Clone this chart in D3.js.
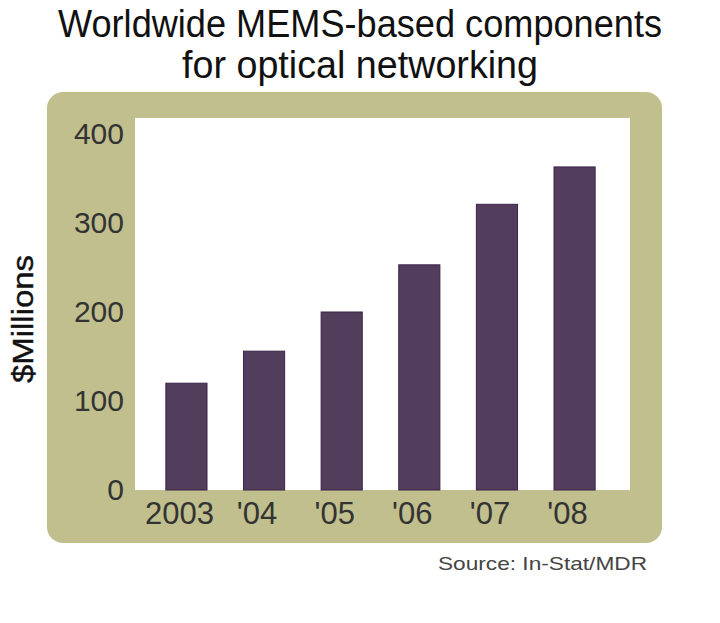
<!DOCTYPE html>
<html><head><meta charset="utf-8">
<script src="https://cdn.jsdelivr.net/npm/d3@7/dist/d3.min.js"></script>
<style>body{margin:0;background:#fff}svg{display:block}</style>
</head><body>
<script>
const categories = ["2003", "'04", "'05", "'06", "'07", "'08"];
const values = [120, 156, 200, 253, 321, 363];
const yTicks = [0, 100, 200, 300, 400];
const titleLines = ["Worldwide MEMS-based components", "for optical networking"];
const yLabel = "$Millions";
const source = "Source: In-Stat/MDR";

const W = 720, H = 623;
const svg = d3.select("body").append("svg").attr("width", W).attr("height", H);
const font = "'Liberation Sans', Arial, sans-serif";

// title
const tl = [{t: titleLines[0], y: 37, len: 604}, {t: titleLines[1], y: 78, len: 356}];
svg.selectAll("text.title").data(tl).join("text")
  .attr("x", 360).attr("y", d => d.y).attr("text-anchor", "middle")
  .attr("font-family", font).attr("font-size", 38).attr("fill", "#111")
  .attr("textLength", d => d.len).attr("lengthAdjust", "spacingAndGlyphs")
  .text(d => d.t);

// olive frame
svg.append("rect").attr("x", 47).attr("y", 92).attr("width", 615).attr("height", 451)
  .attr("rx", 16).attr("fill", "#c0bf8d");

// plot area
const plot = {l: 135, t: 118, r: 630, b: 490};
svg.append("rect").attr("x", plot.l).attr("y", plot.t).attr("width", plot.r - plot.l)
  .attr("height", plot.b - plot.t).attr("fill", "#fff");

const y = d3.scaleLinear().domain([0, 400]).range([plot.b, plot.b - 356]);
const x = d3.scaleBand().domain(categories).range([148, 613]).paddingInner(0.47).paddingOuter(0.23);

// bars
svg.selectAll("rect.bar").data(values).join("rect")
  .attr("x", (d, i) => x(categories[i])).attr("width", x.bandwidth())
  .attr("y", d => y(d)).attr("height", d => y(0) - y(d))
  .attr("fill", "#533d5d").attr("stroke", "#3b2449").attr("stroke-width", 1);

// y axis labels
const yAxis = d3.axisLeft(y).tickValues(yTicks).tickSize(0).tickPadding(0);
const ya = svg.append("g").attr("transform", `translate(124,0)`).call(yAxis);
ya.select(".domain").remove();
ya.selectAll("text").attr("font-family", font).attr("font-size", 30).attr("fill", "#333")
  .attr("dy", "0.35em").attr("transform", "translate(0,-1)");

// x axis labels
const xAxis = d3.axisBottom(x).tickSize(0).tickPadding(0);
const xa = svg.append("g").attr("transform", `translate(-7,502)`).call(xAxis);
xa.select(".domain").remove();
xa.selectAll("text").attr("font-family", font).attr("font-size", 31).attr("fill", "#333")
  .attr("dy", "0.71em");

// y label
svg.append("text").attr("transform", "translate(33,319) rotate(-90)")
  .attr("text-anchor", "middle").attr("font-family", font).attr("font-size", 29)
  .attr("fill", "#111").attr("stroke", "#111").attr("stroke-width", 0.4)
  .attr("textLength", 128).attr("lengthAdjust", "spacingAndGlyphs").text(yLabel);

// source
svg.append("text").attr("x", 647).attr("y", 570).attr("text-anchor", "end")
  .attr("font-family", font).attr("font-size", 19).attr("fill", "#444")
  .attr("textLength", 209).attr("lengthAdjust", "spacingAndGlyphs").text(source);
</script>
</body></html>
